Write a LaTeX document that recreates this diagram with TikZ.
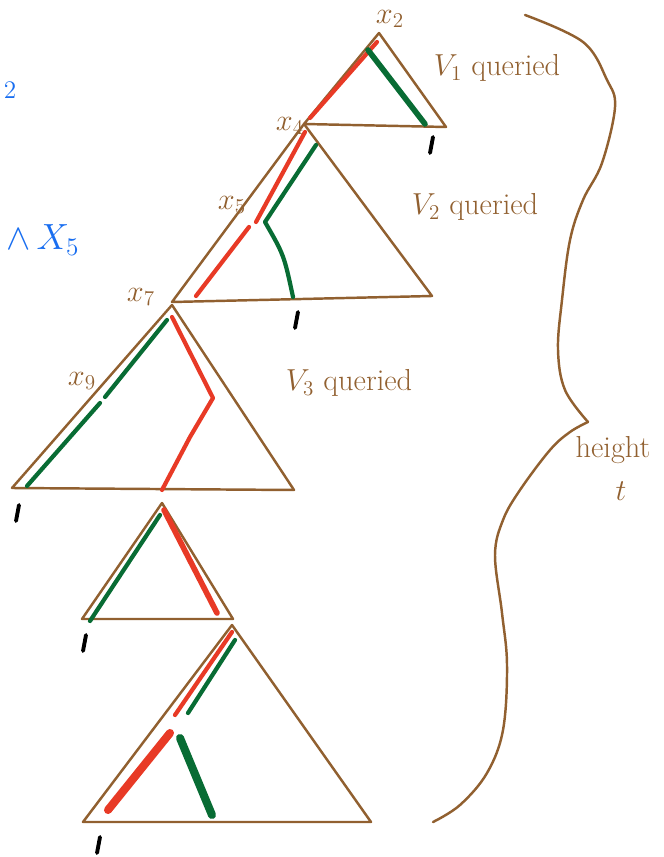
\documentclass[tikz,border=0pt]{standalone}
\usepackage{tikz}
\usepackage{xcolor}
\usepackage{amsmath}
\usetikzlibrary{calc}
\definecolor{ink}{RGB}{145,96,48}
\definecolor{rd}{RGB}{232,58,38}
\definecolor{gr}{RGB}{8,108,52}
\definecolor{bl}{RGB}{25,110,240}
\tikzset{
  edge/.style={ink,line width=1.4pt},
  redpath/.style={rd,line width=2.4pt},
  greenpath/.style={gr,line width=2.4pt},
  fatpath/.style={line width=4.6pt},
  tally/.style={black,line width=2.2pt},
  lbl/.style={ink,font=\LARGE,inner sep=0pt},
  note/.style={ink,font=\LARGE}
}

\begin{document}
\begin{tikzpicture}[x=0.02cm,y=-0.02cm,line cap=round,line join=round]
    \useasboundingbox (0,0) rectangle (663,857);
    % the five subtrees
    \foreach \ax/\ay/\lx/\ly/\rx/\ry in {
      379/33/304/124/446/127,
      304/124/172/302/432/296,
      172/305/12/488/294/490,
      162/503/82/619/233/619,
      232/625/83/822/371/822}{
      \draw[edge] (\ax,\ay) -- (\lx,\ly) -- (\rx,\ry) -- cycle;
    }
    % leaf ticks
    \foreach \x/\y in {433/137, 298/312, 19/505, 86/635, 100/837}{
      \draw[tally] (\x,\y) -- ++(-3,16);
    }
    % paths through the trees
    \draw[redpath] (377,42) -- (310,118);
    \draw[greenpath,line width=3.2pt] (368,50) -- (425,124);
    \draw[redpath] (305,132) -- (256,222);
    \draw[redpath] (249,227) -- (196,296);
    \draw[greenpath] (316,145) -- (265,222) .. controls (284,255) .. (293,297);
    \draw[greenpath] (167,320) -- (105,397);
    \draw[greenpath] (100,403) -- (27,486);
    \draw[redpath] (172,317) -- (213,398) -- (190,437) -- (162,490);
    \draw[greenpath] (160,515) -- (90,621);
    \draw[redpath,line width=3.2pt] (164,510) -- (217,613);
    \draw[redpath] (232,632) -- (175,715);
    \draw[greenpath] (235,640) -- (188,713);
    \draw[redpath,fatpath] (170,733) -- (108,810);
    \draw[greenpath,fatpath] (180,738) -- (212,815);
    % brace for the height
    \draw[edge] plot[smooth,tension=0.6] coordinates {
      (525,15) (583,42) (607,80) (615,107) (602,163) (583,200)
      (570,240) (562,300) (558,350) (565,390) (588,422)};
    \draw[edge] plot[smooth,tension=0.6] coordinates {
      (588,422) (570,432) (550,450) (520,490) (503,520) (495,555)
      (502,613) (507,665) (503,730) (487,773) (460,805) (433,822)};
    % labels
    \node[lbl] (x2) at (390,19) {$x_2$};
    \node[lbl] (x4) at (290,126) {$x_4$};
    \node[lbl] (x5) at (232,205) {$x_5$};
    \node[lbl] (x7) at (141,297) {$x_7$};
    \node[lbl] (x9) at (82,381) {$x_9$};
    \node[note] (v1) at (497,68) {$V_1$ queried};
    \node[note] (v2) at (475,207) {$V_2$ queried};
    \node[note] (v3) at (349,383) {$V_3$ queried};
    \node[note] (ht) at (613,450) {height};
    \node[note] (tt) at (621,491) {$t$};
    \node[bl,font=\Large] (two) at (10,90) {$2$};
    \node[bl,font=\huge,anchor=west] (wx) at (0,240) {$\wedge\,X_5$};
\end{tikzpicture}
\end{document}
